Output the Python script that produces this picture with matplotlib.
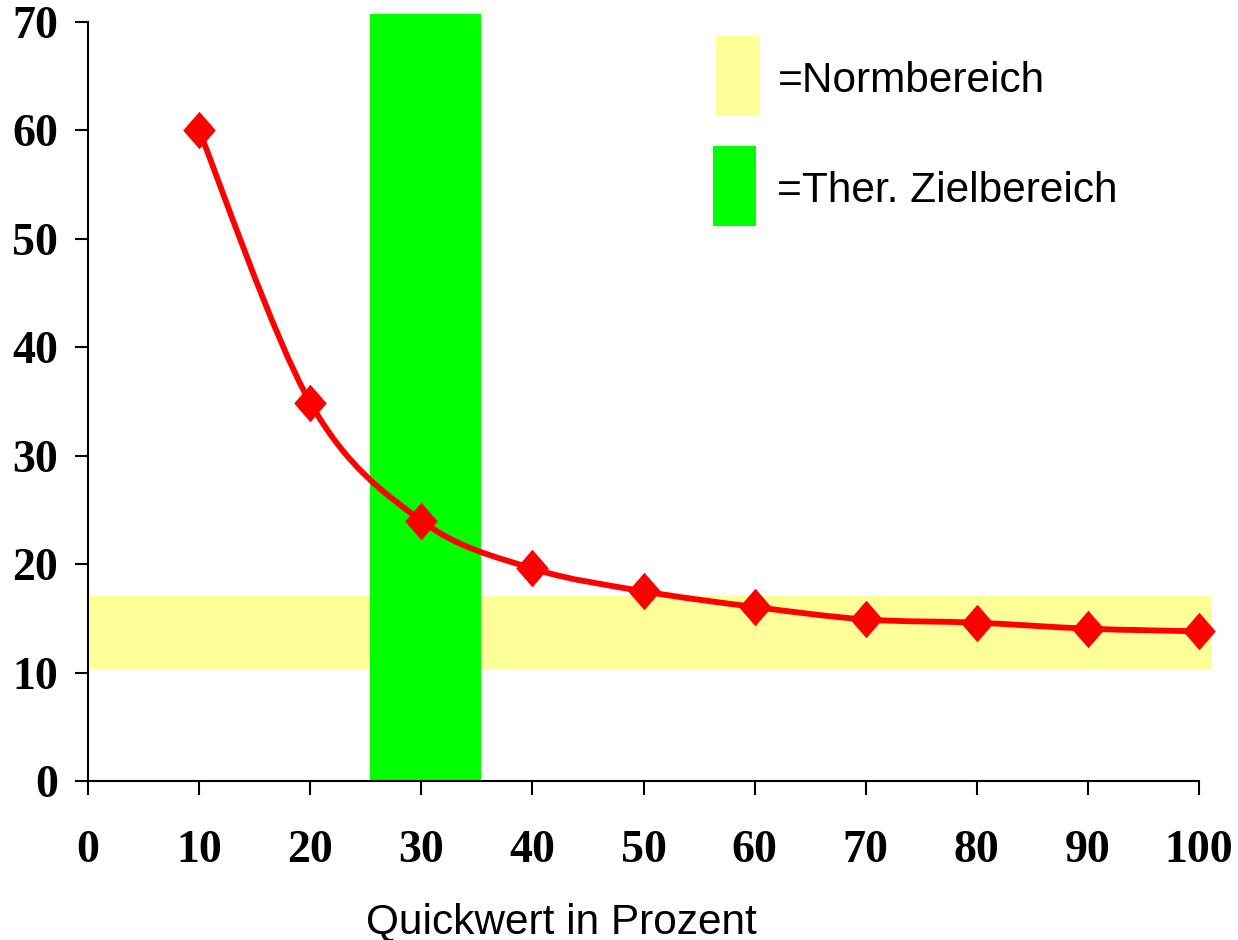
import numpy as np
import matplotlib
matplotlib.use("Agg")
import matplotlib.pyplot as plt
from matplotlib.path import Path
from matplotlib.patches import PathPatch, Rectangle

# Quickwert (%) gegen INR-artigen Wert
quick = [10, 20, 30, 40, 50, 60, 70, 80, 90, 100]
werte = [60.0, 34.9, 24.0, 19.6, 17.5, 16.05, 14.9, 14.6, 14.05, 13.8]

norm_bereich = (10.3, 17.1)     # y-Bereich
ziel_bereich = (25.4, 35.4)     # x-Bereich

xticks = [0, 10, 20, 30, 40, 50, 60, 70, 80, 90, 100]
yticks = [0, 10, 20, 30, 40, 50, 60, 70]

ROT = "#FF0000"
GELB = "#FFFF99"
GRUEN = "#00FF00"

fig = plt.figure(figsize=(12.38, 9.4), dpi=100)
ax = fig.add_axes([88 / 1238, 1 - 781 / 940, (1199 - 88) / 1238, (781 - 22) / 940])
ax.set_xlim(0, 100)
ax.set_ylim(0, 70)

# Normbereich (gelb) und therapeutischer Zielbereich (gruen)
ax.add_patch(Rectangle((0.2, norm_bereich[0]), 101.2 - 0.2,
                       norm_bereich[1] - norm_bereich[0],
                       facecolor=GELB, edgecolor="none", clip_on=False, zorder=1))
ax.add_patch(Rectangle((ziel_bereich[0], 0), ziel_bereich[1] - ziel_bereich[0], 70.7,
                       facecolor=GRUEN, edgecolor="none", clip_on=False, zorder=2))

# geglaettete Linie (Catmull-Rom als Bezier)
pts = np.column_stack([quick, werte])
verts = [tuple(pts[0])]
codes = [Path.MOVETO]
n = len(pts)
for i in range(n - 1):
    p0 = pts[max(i - 1, 0)]
    p1 = pts[i]
    p2 = pts[i + 1]
    p3 = pts[min(i + 2, n - 1)]
    c1 = p1 + (p2 - p0) / 6
    c2 = p2 - (p3 - p1) / 6
    verts += [tuple(c1), tuple(c2), tuple(p2)]
    codes += [Path.CURVE4] * 3
ax.add_patch(PathPatch(Path(verts, codes), facecolor="none", edgecolor=ROT,
                       lw=4.2, zorder=3, clip_on=False))

raute = [(-0.87, 0), (0, 1), (0.87, 0), (0, -1)]
ax.plot(quick, werte, linestyle="none", marker=raute, markersize=27,
        color=ROT, markeredgewidth=0, zorder=4, clip_on=False)

# Achsen
for s in ["top", "right"]:
    ax.spines[s].set_visible(False)
for s in ["left", "bottom"]:
    ax.spines[s].set_linewidth(1.5)
ax.set_xticks(xticks)
ax.set_yticks(yticks)
ax.tick_params(axis="y", direction="out", length=9.5, width=1.5, pad=12)
ax.tick_params(axis="x", direction="out", length=10, width=1.5, pad=25)
for lab in ax.get_xticklabels() + ax.get_yticklabels():
    lab.set_fontfamily("Liberation Serif")
    lab.set_fontweight("bold")
    lab.set_fontsize(33)

fig.text(561 / 1238, 1 - 933 / 940, "Quickwert in Prozent", ha="center", va="baseline",
         fontfamily="Liberation Sans", fontsize=30.5)

# Legende
fig.patches.append(Rectangle((716 / 1238, 1 - 116 / 940), 43 / 1238, 80 / 940,
                             transform=fig.transFigure, facecolor=GELB, edgecolor="none"))
fig.patches.append(Rectangle((713 / 1238, 1 - 226 / 940), 43 / 1238, 80 / 940,
                             transform=fig.transFigure, facecolor=GRUEN, edgecolor="none"))
fig.text(778 / 1238, 1 - 92 / 940, "=Normbereich", ha="left", va="baseline",
         fontfamily="Liberation Sans", fontsize=30.5)
fig.text(777 / 1238, 1 - 202 / 940, "=Ther. Zielbereich", ha="left", va="baseline",
         fontfamily="Liberation Sans", fontsize=30.5)

fig.savefig("out.png", dpi=100)
